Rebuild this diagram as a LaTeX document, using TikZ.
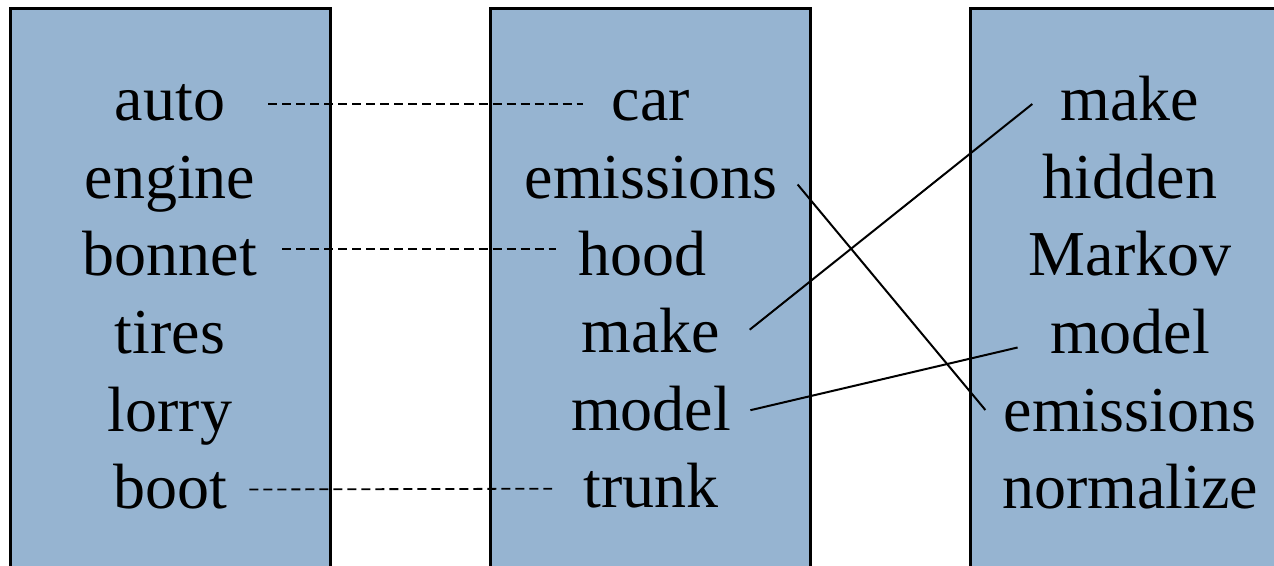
\documentclass[tikz,border=0pt]{standalone}
\usepackage{fontspec}
\setmainfont{Liberation Serif}
\usepackage{xcolor}
\usepackage{tikz}
\usetikzlibrary{positioning}
\definecolor{colfill}{HTML}{96B4D1}
\definecolor{ink}{HTML}{000000}

\begin{document}
\begin{tikzpicture}[x=0.5pt, y=-0.5pt, font=\fontsize{32}{38}\selectfont,
          node distance=9.35pt,
          col/.style={draw=ink, fill=colfill, line width=1.5pt},
          w/.style={inner sep=0pt, text height=24pt, text depth=5pt},
          same/.style={ink, dash pattern=on 4.5pt off 2.5pt, line width=0.9pt},
          link/.style={ink, line width=1pt}]
        \clip (0,0) rectangle (1274,566);
        \fill[white] (0,0) rectangle (1274,566);
        % three word lists
        \draw[col] (10,9) rectangle (330,620);
        \draw[col] (490,9) rectangle (810,620);
        \draw[col] (970,9) rectangle (1300,620);
        % left list
        \node[w, anchor=base] (auto) at (170,121) {auto};
        \node[w, below=of auto] (engine) {engine};
        \node[w, below=of engine] (bonnet) {bonnet};
        \node[w, below=of bonnet] (tires) {tires};
        \node[w, below=of tires] (lorry) {lorry};
        \node[w, below=of lorry] (boot) {boot};
        % middle list
        \node[w, anchor=base] (car) at (651,121) {car};
        \node[w, below=of car] (emis) {emissions};
        \node[w, below=of emis, xshift=-4.5pt] (hood) {hood};
        \node[w, below=of emis, yshift=-38.35pt] (make) {make};
        \node[w, below=of make] (model) {model};
        \node[w, below=of model] (trunk) {trunk};
        % right list
        \node[w, anchor=base] (rmake) at (1130,121) {make};
        \node[w, below=of rmake] (hidden) {hidden};
        \node[w, below=of hidden] (markov) {Markov};
        \node[w, below=of markov] (rmodel) {model};
        \node[w, below=of rmodel] (remis) {emissions};
        \node[w, below=of remis] (norm) {normalize};
        % links
        \draw[same] ([shift={(21.5pt,-1pt)}]auto.east) -- ([shift={(-14.5pt,-1pt)}]car.west);
        \draw[same] ([shift={(12.5pt,4pt)}]bonnet.east) -- ([shift={(-11pt,4pt)}]hood.west);
        \draw[same] ([xshift=11pt]boot.east) -- ([xshift=-15.5pt]trunk.west);
        \draw[link] ([shift={(10pt,-2.5pt)}]emis.east) -- ([shift={(-9pt,1pt)}]remis.west);
        \draw[link] ([shift={(14.5pt,2pt)}]make.east) -- ([shift={(-14pt,-1pt)}]rmake.west);
        \draw[link] ([shift={(9.5pt,0.5pt)}]model.east) -- ([shift={(-16pt,-6.5pt)}]rmodel.west);
      \end{tikzpicture}
\end{document}
